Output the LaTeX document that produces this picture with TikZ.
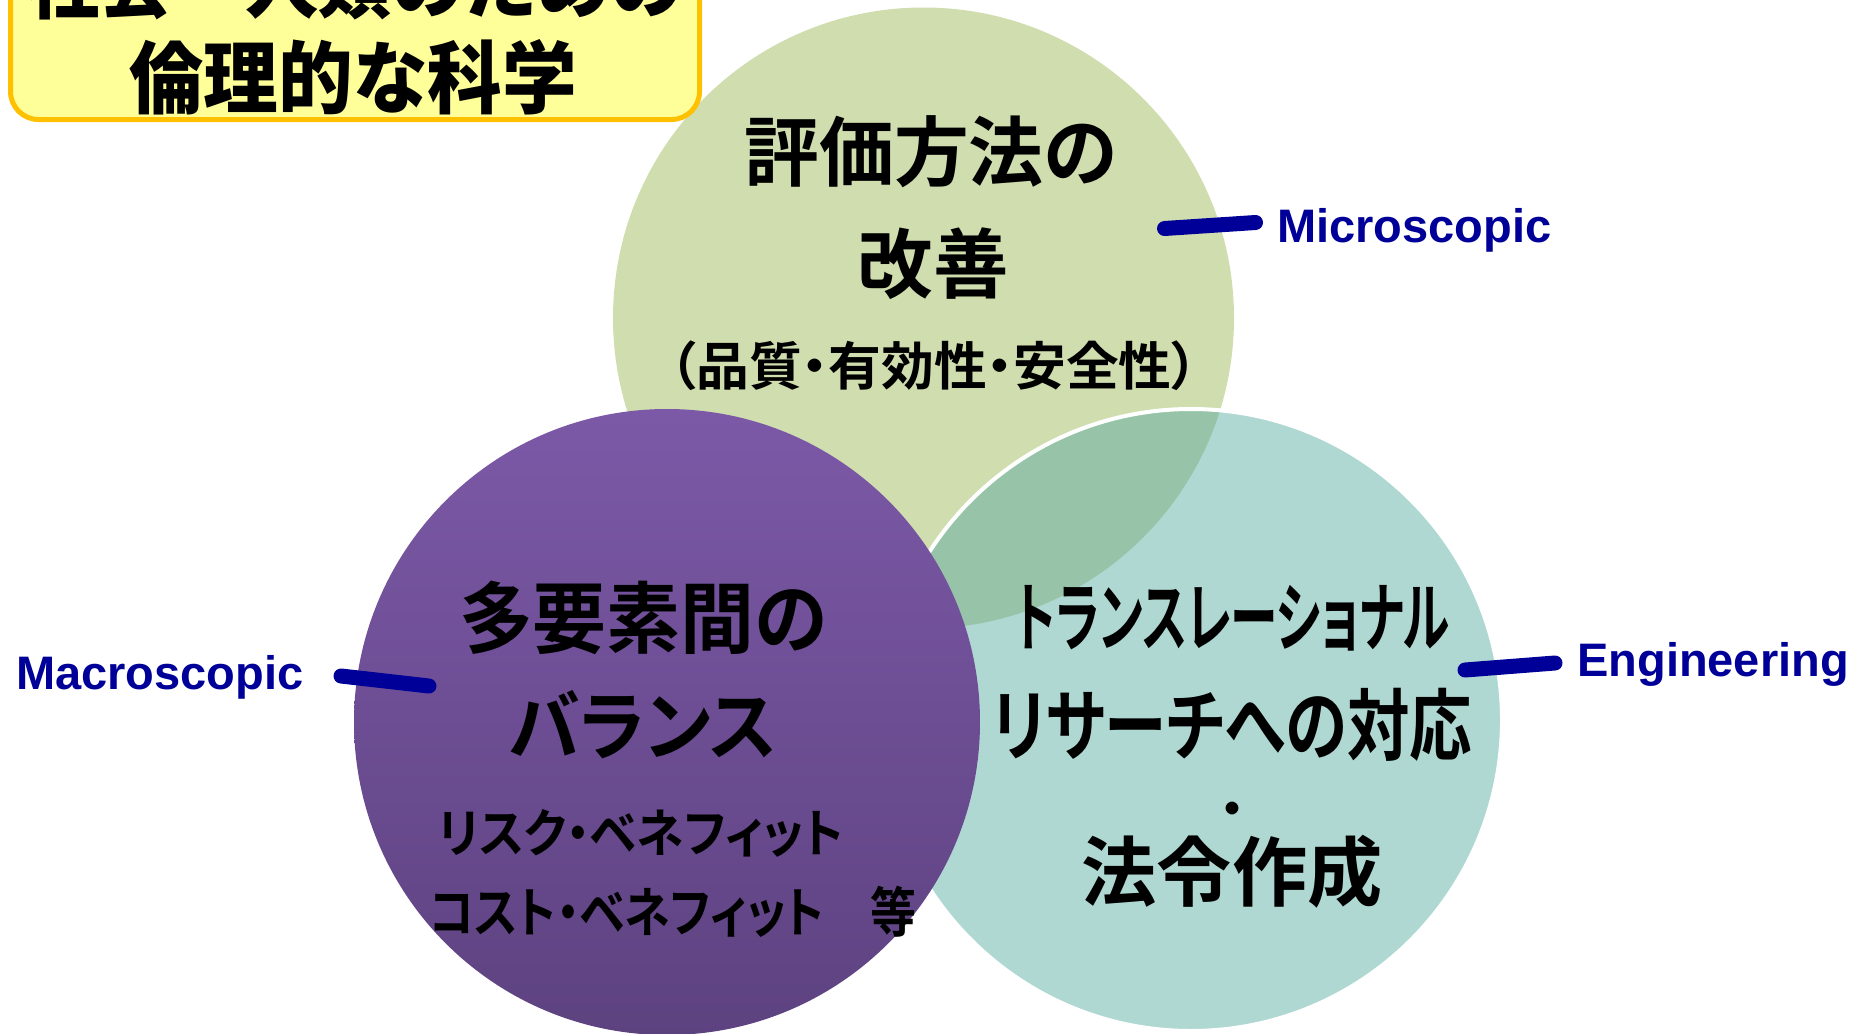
\documentclass[tikz,border=0pt]{standalone}
\usepackage{fontspec}
\usepackage{graphicx}
\setmainfont{Liberation Sans}
\newfontfamily\jpbold{Noto Sans CJK JP Bold}[RawFeature=+palt]
\newfontfamily\jpblack{Noto Sans CJK JP Black}
\definecolor{cgreen}{HTML}{D0DDAF}
\definecolor{cteal}{HTML}{B0D8D3}
\definecolor{cover}{HTML}{97C4A9}
\definecolor{cpurtop}{HTML}{7C59A7}
\definecolor{cpurbot}{HTML}{5D4280}
\definecolor{navy}{HTML}{000099}
\definecolor{tyellow}{HTML}{FFFF99}
\definecolor{torange}{HTML}{FFC000}
\newlength\fitlen
\newcommand\fitto[2]{\settowidth\fitlen{#2}\pgfmathsetmacro\fitr{#1/\fitlen}\scalebox{\fitr}[1]{#2}}
\tikzset{
  jtxt/.style={anchor=base, inner sep=0pt, text=black},
  jb/.style={jtxt, font=\jpbold\fontsize{#1}{#1}\selectfont},
  jk/.style={jtxt, font=\jpblack\fontsize{#1}{#1}\selectfont},
  lab/.style={anchor=base west, inner sep=0pt, text=navy, font=\bfseries\fontsize{47}{47}\selectfont},
  tick/.style={draw=navy, line width=15pt, line cap=round},
}
\begin{document}
\begin{tikzpicture}[x=1pt,y=-1pt]
\useasboundingbox (0,0) rectangle (1862,1033);
\clip (0,0) rectangle (1862,1033);
% circle centres
\coordinate (cg) at (923.5,318);
\coordinate (ct) at (1191,720);
\coordinate (cp) at (667,722);
% green circle
\fill[cgreen] (cg) circle (310.5);
% teal circle
\fill[cteal] (ct) circle (311);
\begin{scope}
  \clip (cg) circle (310.5);
  \fill[cover] (ct) circle (311);
\end{scope}
\draw[white, line width=4pt] (ct) circle (311);
% purple circle
\shade[top color=cpurtop, bottom color=cpurbot] (cp) circle (313);
% title box
\draw[fill=tyellow, draw=torange, line width=5pt, rounded corners=28pt] (10.5,-90) rectangle (699.5,119.5);
\node[jk=79] (t1) at (355,13) {\fitto{658}{社会・人類のための}};
\node[jk=79] (t2) at (353,107) {\fitto{448}{倫理的な科学}};
% green circle text
\node[jb=76] (a1) at (931,180) {\fitto{373}{評価方法の}};
\node[jb=76] (a2) at (933,292) {\fitto{151}{改善}};
\node[jb=52] (a3) at (934,385) {\fitto{528}{（品質・有効性・安全性）}};
% purple circle text
\node[jb=78] (b1) at (643,647) {\fitto{368}{多要素間の}};
\node[jb=76] (b2) at (643,754) {\fitto{268}{バランス}};
\node[jb=52] (b3) at (641,852) {\fitto{405}{リスク・ベネフィット}};
\node[jb=54] (b4) at (673,932) {\fitto{487}{コスト・ベネフィット　等}};
% teal circle text
\node[jb=76] (c1) at (1233,645) {\fitto{434}{トランスレーショナル}};
\node[jb=78] (c2) at (1232,754) {\fitto{480}{リサーチへの対応}};
\node[jb=50] (c3) at (1232,827) {・};
\node[jb=76] (c4) at (1232,900) {\fitto{301}{法令作成}};
% labels
\node[lab] (micro) at (1277,242) {Microscopic};
\node[lab] (macro) at (16,689) {Macroscopic};
\node[lab] (eng) at (1577,676) {Engineering};
\coordinate (m1) at (1164.5,228.5);
\coordinate (m2) at (1255.5,222.5);
\coordinate (p1) at (341,676);
\coordinate (p2) at (429,686);
\coordinate (e1) at (1465,670);
\coordinate (e2) at (1555,663);
\draw[tick] (m1) -- (m2);
\draw[tick] (p1) -- (p2);
\draw[tick] (e1) -- (e2);
\end{tikzpicture}
\end{document}
